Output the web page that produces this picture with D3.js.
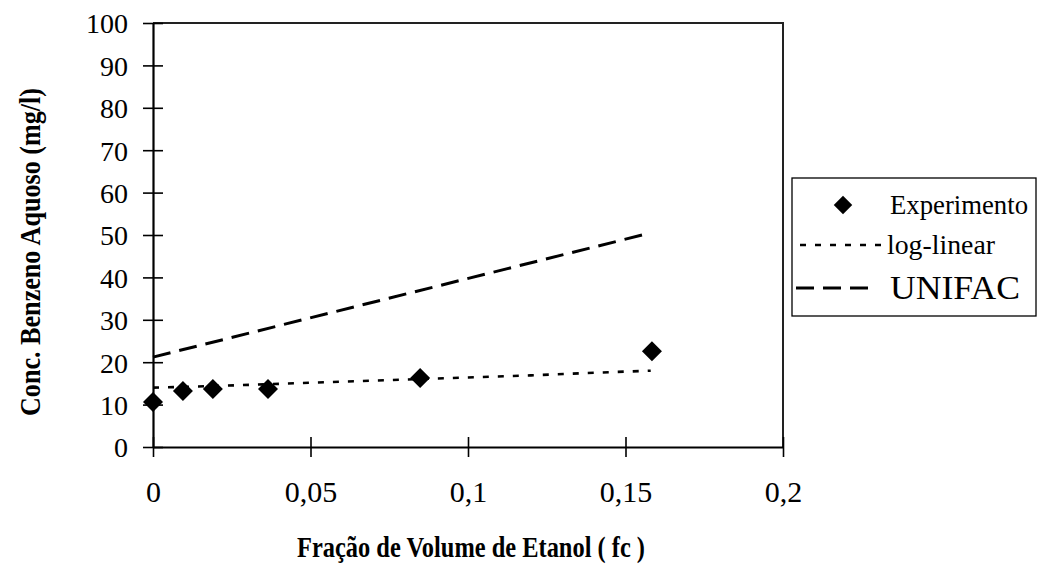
<!DOCTYPE html>
<html>
<head>
<meta charset="utf-8">
<script src="https://cdn.jsdelivr.net/npm/d3@7/dist/d3.min.js"></script>
<style>
  html, body { margin: 0; padding: 0; background: #fff; }
  svg { display: block; }
  text { font-family: "Liberation Serif", "Times New Roman", serif; fill: #000; }
</style>
</head>
<body>
<svg id="chart" width="1039" height="573"></svg>
<script>
// Experimental aqueous benzene concentration vs. ethanol volume fraction
const expX = [0, 0.0095, 0.019, 0.0365, 0.0848, 0.1584];
const expY = [10.6, 13.2, 13.7, 13.7, 16.3, 22.6];

// log-linear model curve
const logLinX = [0, 0.02, 0.04, 0.06, 0.08, 0.10, 0.12, 0.14, 0.158];
const logLinY = [14.0, 14.4, 14.9, 15.4, 15.9, 16.4, 16.9, 17.5, 18.0];

// UNIFAC prediction
const unifacX = [0, 0.158];
const unifacY = [21.2, 50.5];

const xTicks = [0, 0.05, 0.1, 0.15, 0.2];
const xTickLabels = ["0", "0,05", "0,1", "0,15", "0,2"];
const yTicks = [0, 10, 20, 30, 40, 50, 60, 70, 80, 90, 100];

const legendLabels = ["Experimento", "log-linear", "UNIFAC"];

const svg = d3.select("#chart");
const plot = { left: 153, right: 783, top: 23, bottom: 447 };

const x = d3.scaleLinear().domain([0, 0.2]).range([plot.left, plot.right]);
const y = d3.scaleLinear().domain([0, 100]).range([plot.bottom, plot.top]);

// plot frame (top and right edges)
svg.append("path")
  .attr("d", `M${plot.left},${plot.top}H${plot.right}V${plot.bottom}`)
  .attr("fill", "none").attr("stroke", "#222").attr("stroke-width", 2);

// y axis with ticks crossing the axis line
const yAxis = svg.append("g").attr("transform", `translate(${plot.left},0)`)
  .call(d3.axisLeft(y).tickValues(yTicks).tickSize(10).tickSizeOuter(0));
yAxis.select(".domain").attr("stroke", "#000").attr("stroke-width", 2.2);
yAxis.selectAll(".tick line").attr("x2", 10).attr("x1", -10).attr("stroke-width", 1.6);
yAxis.selectAll(".tick text")
  .style("font-family", "'Liberation Serif', serif").style("font-size", "28px")
  .attr("x", -25).attr("dy", "0.35em");

// x axis with crossing ticks
const xAxis = svg.append("g").attr("transform", `translate(0,${plot.bottom})`)
  .call(d3.axisBottom(x).tickValues(xTicks).tickFormat((d, i) => xTickLabels[i])
    .tickSize(10).tickSizeOuter(0).tickPadding(24));
xAxis.select(".domain").attr("stroke", "#000").attr("stroke-width", 2.2);
xAxis.selectAll(".tick line").attr("y1", -10).attr("y2", 10).attr("stroke-width", 1.6);
xAxis.selectAll(".tick text")
  .style("font-family", "'Liberation Serif', serif").style("font-size", "30px");

// axis titles
svg.append("text")
  .attr("x", 471).attr("y", 557).attr("text-anchor", "middle")
  .attr("textLength", 348).attr("lengthAdjust", "spacingAndGlyphs")
  .style("font-size", "29px").style("font-weight", "bold")
  .text("Fração de Volume de Etanol ( fc )");

svg.append("text")
  .attr("transform", "translate(40,252) rotate(-90)").attr("text-anchor", "middle")
  .attr("textLength", 328).attr("lengthAdjust", "spacingAndGlyphs")
  .style("font-size", "29px").style("font-weight", "bold")
  .text("Conc. Benzeno Aquoso (mg/l)");

const line = d3.line().x(d => x(d[0])).y(d => y(d[1]));

// UNIFAC dashed line
svg.append("path")
  .datum(d3.zip(unifacX, unifacY))
  .attr("d", line)
  .attr("fill", "none").attr("stroke", "#000").attr("stroke-width", 3)
  .attr("stroke-dasharray", "18,9");

// log-linear dotted line
svg.append("path")
  .datum(d3.zip(logLinX, logLinY))
  .attr("d", d3.line().curve(d3.curveMonotoneX).x(d => x(d[0])).y(d => y(d[1])))
  .attr("fill", "none").attr("stroke", "#000").attr("stroke-width", 2.6)
  .attr("stroke-dasharray", "6,9");

// experimental diamonds
const diamond = d3.symbol().type(d3.symbolSquare).size(200);
svg.append("g").selectAll("path")
  .data(d3.zip(expX, expY))
  .join("path")
  .attr("d", diamond)
  .attr("transform", d => `translate(${x(d[0])},${y(d[1])}) rotate(45)`)
  .attr("fill", "#000");

// legend
const lg = svg.append("g");
lg.append("rect")
  .attr("x", 792).attr("y", 178).attr("width", 244).attr("height", 138)
  .attr("fill", "#fff").attr("stroke", "#000").attr("stroke-width", 1.3);

lg.append("path").attr("d", d3.symbol().type(d3.symbolSquare).size(170))
  .attr("transform", "translate(843,205) rotate(45)").attr("fill", "#000");
lg.append("text").attr("x", 890).attr("y", 214)
  .attr("textLength", 138).attr("lengthAdjust", "spacingAndGlyphs")
  .style("font-size", "27px").text(legendLabels[0]);

lg.append("line").attr("x1", 800).attr("x2", 885).attr("y1", 245).attr("y2", 245)
  .attr("stroke", "#000").attr("stroke-width", 2.6).attr("stroke-dasharray", "6,9");
lg.append("text").attr("x", 887).attr("y", 254)
  .attr("textLength", 108).attr("lengthAdjust", "spacingAndGlyphs")
  .style("font-size", "27px").text(legendLabels[1]);

lg.append("line").attr("x1", 796).attr("x2", 873).attr("y1", 288).attr("y2", 288)
  .attr("stroke", "#000").attr("stroke-width", 3).attr("stroke-dasharray", "18,9");
lg.append("text").attr("x", 890).attr("y", 299)
  .attr("textLength", 130).attr("lengthAdjust", "spacingAndGlyphs")
  .style("font-size", "33px").text(legendLabels[2]);
</script>
</body>
</html>
